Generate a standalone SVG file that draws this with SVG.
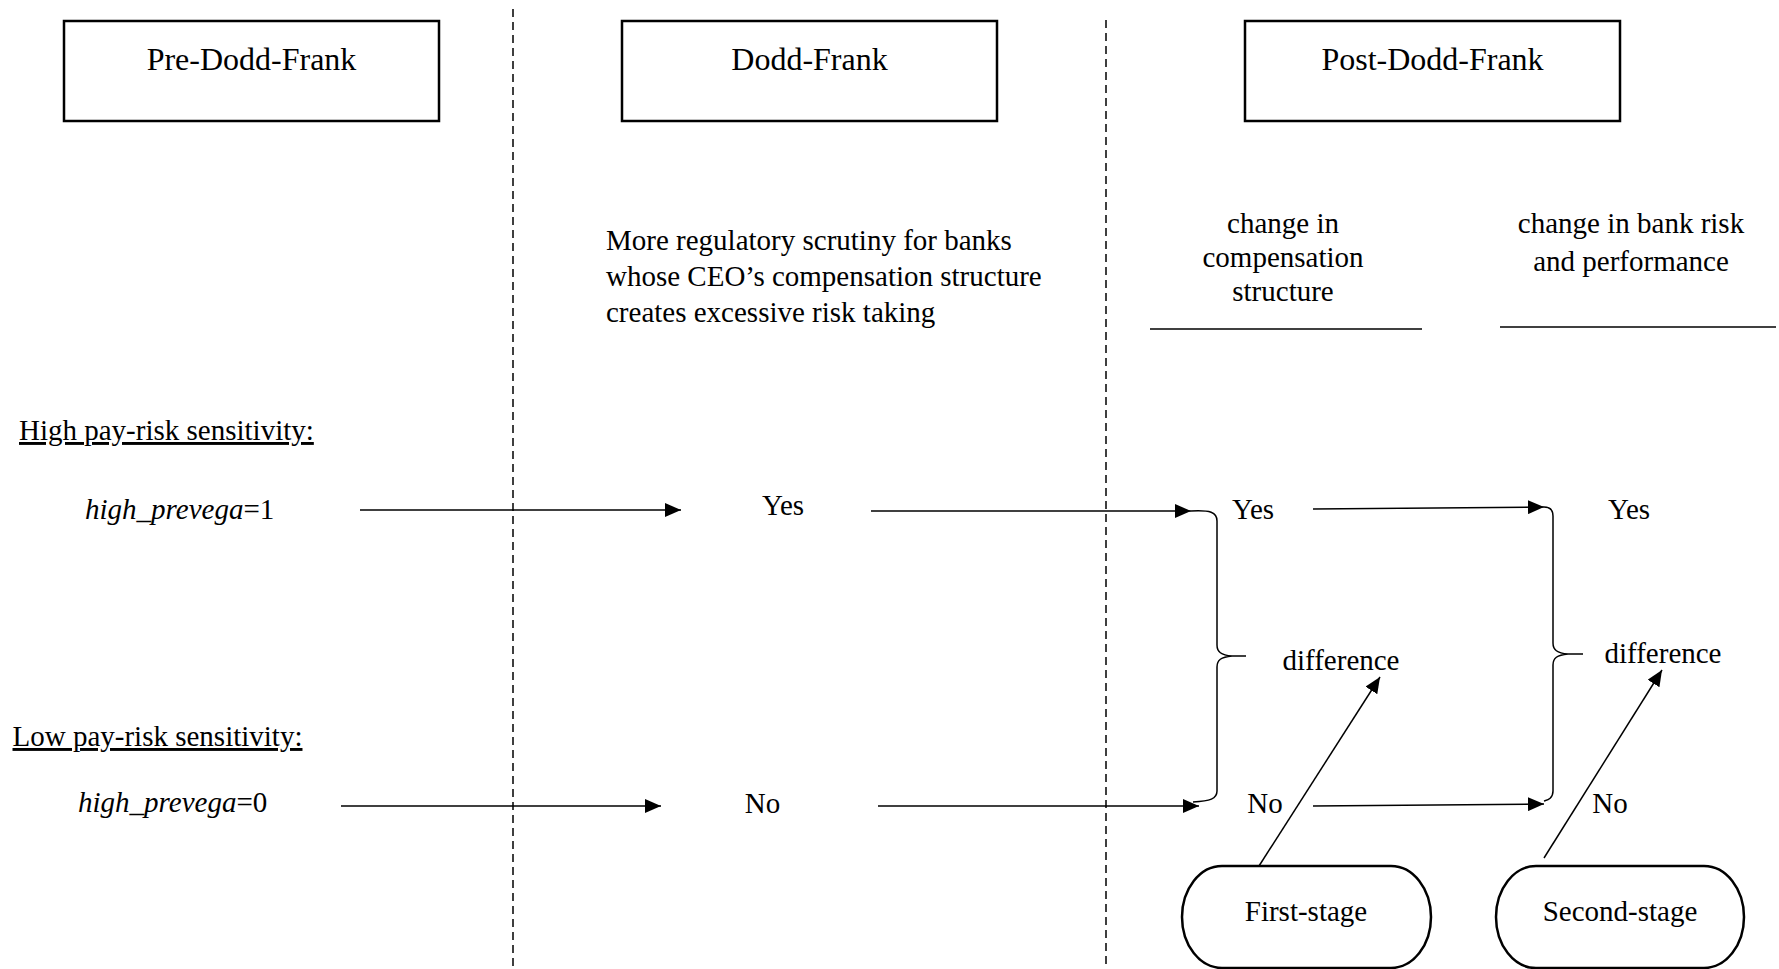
<svg xmlns="http://www.w3.org/2000/svg" width="1779" height="969" viewBox="0 0 1779 969">
<style>
text{font-family:"Liberation Serif","Times New Roman",serif;font-size:29px;fill:#000}
.h{font-size:32px}
.c{text-anchor:middle}
.box{fill:#fff;stroke:#000;stroke-width:2.5}
.ln{fill:none;stroke:#000;stroke-width:1.5}
.dash{fill:none;stroke:#000;stroke-width:1.5;stroke-dasharray:8 5}
.arr{fill:none;stroke:#000;stroke-width:1.5;marker-end:url(#ah)}
.stage{fill:#fff;stroke:#000;stroke-width:2.5}
</style>
<defs>
<marker id="ah" viewBox="0 0 16 14" refX="16" refY="7" markerWidth="16" markerHeight="14" markerUnits="userSpaceOnUse" orient="auto">
<path d="M0,0 L16,7 L0,14 Z" fill="#000"/>
</marker>
</defs>
<rect width="1779" height="969" fill="#fff"/>
<g id="dividers">
<line class="dash" x1="513" y1="9" x2="513" y2="969"/>
<line class="dash" x1="1106" y1="20" x2="1106" y2="969"/>
</g>
<g id="pre-dodd-frank">
<rect class="box" x="64" y="21" width="375" height="100"/>
<text class="h c" x="251.5" y="70">Pre-Dodd-Frank</text>
</g>
<g id="dodd-frank">
<rect class="box" x="622" y="21" width="375" height="100"/>
<text class="h c" x="809.5" y="70">Dodd-Frank</text>
</g>
<g id="post-dodd-frank">
<rect class="box" x="1245" y="21" width="375" height="100"/>
<text class="h c" x="1432.5" y="70">Post-Dodd-Frank</text>
</g>
<g id="scrutiny">
<text x="606" y="250">More regulatory scrutiny for banks</text>
<text x="606" y="286">whose CEO’s compensation structure</text>
<text x="606" y="322">creates excessive risk taking</text>
</g>
<g id="comp-header">
<text class="c" x="1283" y="233">change in</text>
<text class="c" x="1283" y="267">compensation</text>
<text class="c" x="1283" y="301">structure</text>
<line class="ln" x1="1150" y1="329" x2="1422" y2="329"/>
</g>
<g id="risk-header">
<text class="c" x="1631" y="233">change in bank risk</text>
<text class="c" x="1631" y="271">and performance</text>
<line class="ln" x1="1500" y1="327" x2="1776" y2="327"/>
</g>
<g id="high-label">
<text x="19" y="440" text-decoration="underline">High pay-risk sensitivity:</text>
</g>
<g id="high-var">
<text x="85" y="519"><tspan font-style="italic">high_prevega</tspan>=1</text>
</g>
<g id="low-label">
<text x="12.5" y="746" text-decoration="underline">Low pay-risk sensitivity:</text>
</g>
<g id="low-var">
<text x="78" y="812"><tspan font-style="italic">high_prevega</tspan>=0</text>
</g>
<g id="yes-df"><text class="c" x="783" y="515">Yes</text></g>
<g id="no-df"><text class="c" x="762.5" y="813">No</text></g>
<g id="yes-comp"><text class="c" x="1253" y="519">Yes</text></g>
<g id="no-comp"><text class="c" x="1265" y="813">No</text></g>
<g id="yes-risk"><text class="c" x="1629" y="519">Yes</text></g>
<g id="no-risk"><text class="c" x="1610" y="813">No</text></g>
<g id="diff-1"><text class="c" x="1341" y="670">difference</text></g>
<g id="diff-2"><text class="c" x="1663" y="663">difference</text></g>
<g id="first-stage">
<rect class="stage" x="1182" y="866" width="249" height="102" rx="40" ry="51"/>
<text class="c" x="1306" y="921">First-stage</text>
</g>
<g id="second-stage">
<rect class="stage" x="1496" y="866" width="248" height="102" rx="40" ry="51"/>
<text class="c" x="1620" y="921">Second-stage</text>
</g>
<g id="connectors">
<line class="arr" x1="360" y1="510" x2="681" y2="510"/>
<line class="arr" x1="871" y1="511" x2="1191" y2="511"/>
<line class="arr" x1="1313" y1="509" x2="1544" y2="507"/>
<line class="arr" x1="341" y1="806" x2="661" y2="806"/>
<line class="arr" x1="878" y1="806" x2="1199" y2="806"/>
<line class="arr" x1="1313" y1="806" x2="1544" y2="804"/>
<line class="arr" x1="1259" y1="866" x2="1380" y2="677"/>
<line class="arr" x1="1544" y1="858" x2="1662" y2="670"/>
<path class="ln" d="M1191,511 C1210,510 1217,512 1217,521 L1217,645 C1217,652 1221,655 1232,656 L1246,656 M1232,656 C1221,657 1217,660 1217,667 L1217,791 C1217,799 1210,801 1193,802"/>
<path class="ln" d="M1544,507 C1547,507 1553,508 1553,516 L1553,643 C1553,650 1557,653 1568,654 L1583,654 M1568,654 C1557,655 1553,658 1553,665 L1553,791 C1553,799 1547,800 1544,801"/>
</g>
</svg>
